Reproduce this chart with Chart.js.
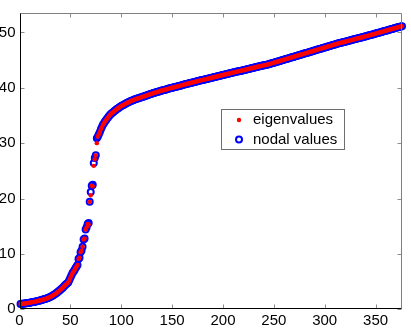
<!DOCTYPE html>
<html>
<head>
<meta charset="utf-8">
<script src="https://cdn.jsdelivr.net/npm/chart.js@4/dist/chart.umd.min.js"></script>
<style>
  html, body { margin: 0; padding: 0; background: #fff; }
  canvas { display: block; }
</style>
</head>
<body>
<canvas id="plot" width="411" height="328"></canvas>
<script>
// Data, one value per index 1..376
const eigenvalues = [
  0.95, 0.98, 1.00, 1.02, 1.05, 1.07, 1.10, 1.13, 1.16, 1.20,
  1.23, 1.27, 1.30, 1.34, 1.38, 1.42, 1.46, 1.50, 1.55, 1.60,
  1.65, 1.70, 1.75, 1.80, 1.86, 1.92, 1.98, 2.05, 2.12, 2.20,
  2.30, 2.40, 2.52, 2.62, 2.75, 2.88, 3.02, 3.18, 3.33, 3.50,
  3.65, 3.82, 4.00, 4.20, 4.40, 4.55, 4.72, 4.90, 5.30, 5.70,
  6.10, 6.50, 6.80, 7.05, 7.40, 7.70, 8.00, 9.10, 9.30, 10.30,
  10.60, 11.30, 12.60, 12.80, 14.40, 14.80, 15.40, 15.30, 19.40, 20.60,
  22.30, 22.20, 25.90, 27.10, 27.80, 30.00, 31.20, 31.60, 32.00, 32.50,
  32.90, 33.30, 33.60, 33.90, 34.15, 34.40, 34.65, 34.90, 35.10, 35.30,
  35.45, 35.60, 35.75, 35.90, 36.05, 36.20, 36.32, 36.44, 36.57, 36.70,
  36.80, 36.90, 37.00, 37.10, 37.20, 37.29, 37.38, 37.47, 37.56, 37.65,
  37.72, 37.79, 37.86, 37.93, 38.00, 38.06, 38.12, 38.18, 38.24, 38.30,
  38.36, 38.42, 38.49, 38.55, 38.62, 38.68, 38.75, 38.81, 38.87, 38.93,
  38.99, 39.05, 39.11, 39.17, 39.22, 39.28, 39.34, 39.39, 39.45, 39.50,
  39.55, 39.60, 39.65, 39.70, 39.75, 39.80, 39.85, 39.90, 39.95, 40.00,
  40.05, 40.10, 40.14, 40.19, 40.24, 40.29, 40.34, 40.38, 40.43, 40.48,
  40.53, 40.58, 40.62, 40.67, 40.72, 40.77, 40.82, 40.86, 40.91, 40.96,
  41.01, 41.06, 41.10, 41.15, 41.20, 41.24, 41.29, 41.33, 41.38, 41.42,
  41.46, 41.51, 41.55, 41.60, 41.64, 41.68, 41.73, 41.77, 41.82, 41.86,
  41.90, 41.95, 41.99, 42.04, 42.08, 42.12, 42.17, 42.21, 42.26, 42.30,
  42.34, 42.39, 42.43, 42.48, 42.52, 42.56, 42.61, 42.65, 42.70, 42.74,
  42.78, 42.83, 42.87, 42.92, 42.96, 43.00, 43.05, 43.09, 43.14, 43.18,
  43.22, 43.27, 43.31, 43.36, 43.40, 43.44, 43.49, 43.53, 43.57, 43.62,
  43.66, 43.70, 43.74, 43.79, 43.83, 43.87, 43.92, 43.96, 44.00, 44.04,
  44.09, 44.13, 44.17, 44.22, 44.26, 44.30, 44.36, 44.41, 44.47, 44.52,
  44.58, 44.63, 44.69, 44.74, 44.80, 44.85, 44.91, 44.96, 45.02, 45.07,
  45.13, 45.18, 45.24, 45.29, 45.35, 45.40, 45.46, 45.51, 45.57, 45.62,
  45.68, 45.73, 45.79, 45.84, 45.90, 45.95, 46.01, 46.06, 46.12, 46.17,
  46.23, 46.28, 46.34, 46.39, 46.45, 46.50, 46.56, 46.61, 46.67, 46.72,
  46.78, 46.83, 46.89, 46.94, 47.00, 47.05, 47.11, 47.16, 47.22, 47.27,
  47.33, 47.38, 47.44, 47.49, 47.55, 47.60, 47.66, 47.71, 47.77, 47.82,
  47.88, 47.93, 47.98, 48.03, 48.08, 48.12, 48.17, 48.22, 48.27, 48.32,
  48.36, 48.41, 48.46, 48.51, 48.56, 48.60, 48.65, 48.70, 48.75, 48.80,
  48.84, 48.89, 48.94, 48.99, 49.04, 49.08, 49.13, 49.18, 49.23, 49.28,
  49.32, 49.37, 49.42, 49.47, 49.52, 49.57, 49.62, 49.67, 49.73, 49.78,
  49.83, 49.88, 49.93, 49.99, 50.04, 50.09, 50.14, 50.19, 50.25, 50.30,
  50.35, 50.40, 50.45, 50.51, 50.56, 50.61, 50.66, 50.71, 50.77, 50.82,
  50.87, 50.92, 50.97, 51.03, 51.08, 51.13
];

const nodalValues = [
  0.95, 0.98, 1.00, 1.02, 1.05, 1.07, 1.10, 1.13, 1.16, 1.20,
  1.23, 1.27, 1.30, 1.34, 1.38, 1.42, 1.46, 1.50, 1.55, 1.60,
  1.65, 1.70, 1.75, 1.80, 1.86, 1.92, 1.98, 2.05, 2.12, 2.20,
  2.30, 2.40, 2.52, 2.62, 2.75, 2.88, 3.02, 3.18, 3.33, 3.50,
  3.65, 3.82, 4.00, 4.20, 4.40, 4.55, 4.72, 4.90, 5.30, 5.70,
  6.10, 6.50, 6.80, 7.05, 7.40, 7.70, 8.00, 9.10, 9.30, 10.30,
  10.60, 11.30, 12.60, 12.80, 14.40, 14.80, 15.40, 15.60, 19.40, 21.20,
  22.30, 22.50, 26.40, 27.30, 27.80, 30.90, 31.20, 31.60, 32.00, 32.50,
  32.90, 33.30, 33.60, 33.90, 34.15, 34.40, 34.65, 34.90, 35.10, 35.30,
  35.45, 35.60, 35.75, 35.90, 36.05, 36.20, 36.32, 36.44, 36.57, 36.70,
  36.80, 36.90, 37.00, 37.10, 37.20, 37.29, 37.38, 37.47, 37.56, 37.65,
  37.72, 37.79, 37.86, 37.93, 38.00, 38.06, 38.12, 38.18, 38.24, 38.30,
  38.36, 38.42, 38.49, 38.55, 38.62, 38.68, 38.75, 38.81, 38.87, 38.93,
  38.99, 39.05, 39.11, 39.17, 39.22, 39.28, 39.34, 39.39, 39.45, 39.50,
  39.55, 39.60, 39.65, 39.70, 39.75, 39.80, 39.85, 39.90, 39.95, 40.00,
  40.05, 40.10, 40.14, 40.19, 40.24, 40.29, 40.34, 40.38, 40.43, 40.48,
  40.53, 40.58, 40.62, 40.67, 40.72, 40.77, 40.82, 40.86, 40.91, 40.96,
  41.01, 41.06, 41.10, 41.15, 41.20, 41.24, 41.29, 41.33, 41.38, 41.42,
  41.46, 41.51, 41.55, 41.60, 41.64, 41.68, 41.73, 41.77, 41.82, 41.86,
  41.90, 41.95, 41.99, 42.04, 42.08, 42.12, 42.17, 42.21, 42.26, 42.30,
  42.34, 42.39, 42.43, 42.48, 42.52, 42.56, 42.61, 42.65, 42.70, 42.74,
  42.78, 42.83, 42.87, 42.92, 42.96, 43.00, 43.05, 43.09, 43.14, 43.18,
  43.22, 43.27, 43.31, 43.36, 43.40, 43.44, 43.49, 43.53, 43.57, 43.62,
  43.66, 43.70, 43.74, 43.79, 43.83, 43.87, 43.92, 43.96, 44.00, 44.04,
  44.09, 44.13, 44.17, 44.22, 44.26, 44.30, 44.36, 44.41, 44.47, 44.52,
  44.58, 44.63, 44.69, 44.74, 44.80, 44.85, 44.91, 44.96, 45.02, 45.07,
  45.13, 45.18, 45.24, 45.29, 45.35, 45.40, 45.46, 45.51, 45.57, 45.62,
  45.68, 45.73, 45.79, 45.84, 45.90, 45.95, 46.01, 46.06, 46.12, 46.17,
  46.23, 46.28, 46.34, 46.39, 46.45, 46.50, 46.56, 46.61, 46.67, 46.72,
  46.78, 46.83, 46.89, 46.94, 47.00, 47.05, 47.11, 47.16, 47.22, 47.27,
  47.33, 47.38, 47.44, 47.49, 47.55, 47.60, 47.66, 47.71, 47.77, 47.82,
  47.88, 47.93, 47.98, 48.03, 48.08, 48.12, 48.17, 48.22, 48.27, 48.32,
  48.36, 48.41, 48.46, 48.51, 48.56, 48.60, 48.65, 48.70, 48.75, 48.80,
  48.84, 48.89, 48.94, 48.99, 49.04, 49.08, 49.13, 49.18, 49.23, 49.28,
  49.32, 49.37, 49.42, 49.47, 49.52, 49.57, 49.62, 49.67, 49.73, 49.78,
  49.83, 49.88, 49.93, 49.99, 50.04, 50.09, 50.14, 50.19, 50.25, 50.30,
  50.35, 50.40, 50.45, 50.51, 50.56, 50.61, 50.66, 50.71, 50.77, 50.82,
  50.87, 50.92, 50.97, 51.03, 51.08, 51.13
];

const xTicks = [0, 50, 100, 150, 200, 250, 300, 350];
const yTicks = [0, 10, 20, 30, 40, 50];
const seriesNames = ['eigenvalues', 'nodal values'];

const FONT = '"Liberation Sans", Arial, Helvetica, sans-serif';
Chart.defaults.font.family = FONT;
Chart.defaults.font.size = 15;
Chart.defaults.color = '#000';

function toPoints(values) {
    return values.map((v, i) => ({ x: i + 1, y: v }));
}

// Matlab-style box with inward ticks, plus the legend box
const matlabAxes = {
    id: 'matlabAxes',
    afterDraw(chart) {
        const ctx = chart.ctx;
        const a = chart.chartArea;
        const xs = chart.scales.x;
        const ys = chart.scales.y;
        const L = Math.round(a.left) + 0.5, R = Math.round(a.right) - 0.5;
        const T = Math.round(a.top) + 0.5, B = Math.round(a.bottom) - 0.5;
        ctx.save();
        ctx.lineWidth = 1;

        // inward ticks
        ctx.strokeStyle = '#8c8c8c';
        ctx.beginPath();
        xTicks.forEach(v => {
            const px = Math.round(xs.getPixelForValue(v)) + 0.5;
            ctx.moveTo(px, B); ctx.lineTo(px, B - 4);
            ctx.moveTo(px, T); ctx.lineTo(px, T + 4);
        });
        yTicks.forEach(v => {
            const py = Math.round(ys.getPixelForValue(v)) + 0.5;
            ctx.moveTo(L, py); ctx.lineTo(L + 4, py);
            ctx.moveTo(R, py); ctx.lineTo(R - 4, py);
        });
        ctx.stroke();

        // top / right in grey
        ctx.strokeStyle = '#808080';
        ctx.beginPath();
        ctx.moveTo(L, T); ctx.lineTo(R, T); ctx.lineTo(R, B);
        ctx.stroke();
        // left / bottom in black
        ctx.strokeStyle = '#000';
        ctx.beginPath();
        ctx.moveTo(L, T); ctx.lineTo(L, B); ctx.lineTo(R, B);
        ctx.stroke();

        // legend
        ctx.fillStyle = '#fff';
        ctx.fillRect(221, 109, 124, 41);
        ctx.strokeStyle = '#6e6e6e';
        ctx.strokeRect(221.5, 109.5, 123, 40);

        ctx.fillStyle = '#ff0000';
        ctx.beginPath();
        ctx.arc(239, 120, 2.2, 0, Math.PI * 2);
        ctx.fill();

        ctx.strokeStyle = '#0000ff';
        ctx.lineWidth = 2;
        ctx.beginPath();
        ctx.arc(239, 139.5, 3, 0, Math.PI * 2);
        ctx.stroke();

        ctx.fillStyle = '#000';
        ctx.font = '15px ' + FONT;
        ctx.textBaseline = 'middle';
        ctx.textAlign = 'left';
        ctx.fillText(seriesNames[0], 253, 120);
        ctx.fillText(seriesNames[1], 253, 139.5);
        ctx.restore();
    }
};

new Chart(document.getElementById('plot'), {
    type: 'scatter',
    data: {
        datasets: [
            {
                label: seriesNames[0],
                data: toPoints(eigenvalues),
                pointStyle: 'circle',
                pointRadius: 2.2,
                pointBorderWidth: 0,
                backgroundColor: '#ff0000',
                borderColor: '#ff0000',
                clip: false
            },
            {
                label: seriesNames[1],
                data: toPoints(nodalValues),
                pointStyle: 'circle',
                pointRadius: 3,
                pointBorderWidth: 2,
                backgroundColor: 'rgba(255,255,255,0)',
                borderColor: '#0000ff',
                clip: false
            }
        ]
    },
    options: {
        responsive: false,
        animation: false,
        devicePixelRatio: 1,
        layout: { padding: { top: 9, right: 9, left: 0, bottom: 0 } },
        plugins: {
            legend: { display: false },
            tooltip: { enabled: false }
        },
        scales: {
            x: {
                type: 'linear',
                min: 0,
                max: 376,
                grid: { display: false, drawTicks: false },
                border: { display: false },
                ticks: { stepSize: 50, padding: 3, maxRotation: 0, autoSkip: false },
                afterBuildTicks: s => { s.ticks = xTicks.map(v => ({ value: v })); },
                afterFit: s => { s.height = 18.7; }
            },
            y: {
                min: 0,
                max: 53.5,
                grid: { display: false, drawTicks: false },
                border: { display: false },
                ticks: { stepSize: 10, padding: 4, autoSkip: false },
                afterBuildTicks: s => { s.ticks = yTicks.map(v => ({ value: v })); },
                afterFit: s => { s.width = 19.5; }
            }
        }
    },
    plugins: [matlabAxes]
});
</script>
</body>
</html>
